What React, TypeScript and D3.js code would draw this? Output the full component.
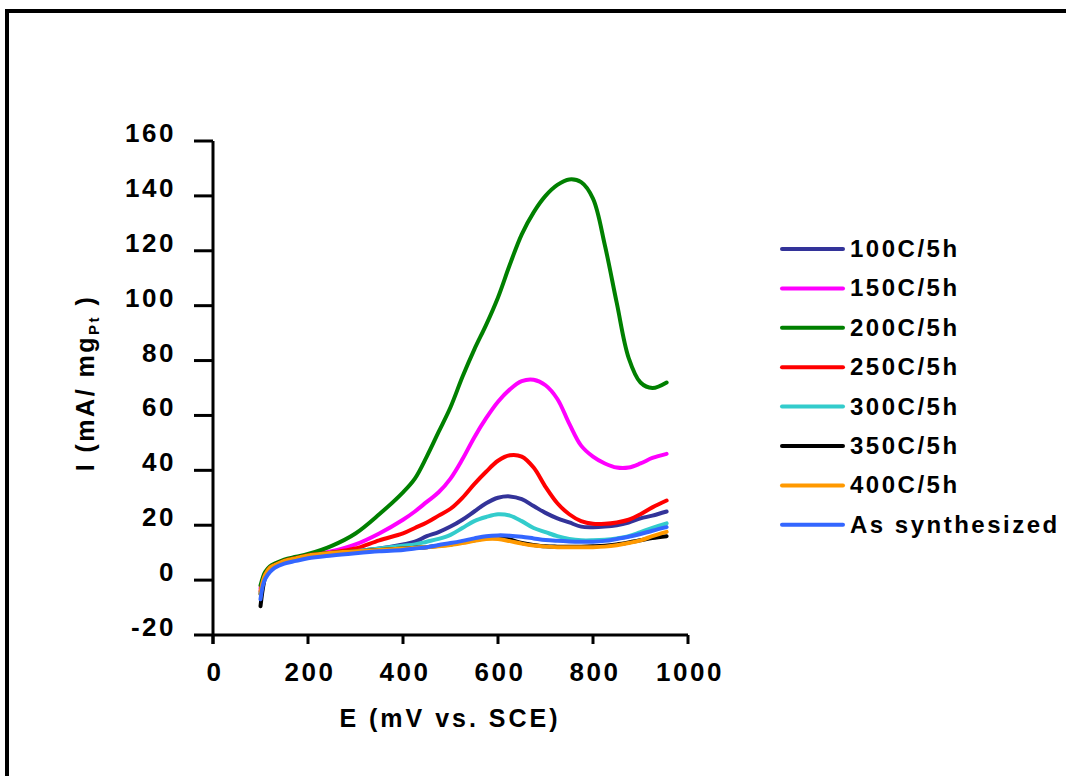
import React from "react";
import * as d3 from "d3";

const E = [100, 105, 110, 120, 130, 150, 175, 200, 250, 300, 350, 400, 425, 450, 475, 500, 525, 550, 575, 600, 625, 650, 675, 700, 725, 750, 775, 800, 825, 850, 875, 900, 925, 955];

const s100 = [-5, -1, 1.5, 4, 5, 6.5, 7.5, 8.5, 9.5, 10.5, 11.5, 13, 14, 16, 17.5, 19.5, 22, 25, 28, 30, 30.5, 29.5, 27, 24.5, 22.5, 21, 19.5, 19.3, 19.5, 20, 21, 22.5, 23.5, 25];
const s150 = [-3, 0, 2.5, 4.5, 5.5, 7, 8, 9, 10.5, 13, 17, 22, 25, 28.5, 32, 37, 44, 52, 59, 65, 69.5, 72.5, 73, 71, 66, 57, 49, 45, 42.5, 41, 41, 42.5, 44.5, 46];
const s200 = [-2, 1, 3, 5, 6, 7.5, 8.5, 9.5, 12.5, 17, 24, 32, 37, 45, 54, 63, 74, 84, 93, 103, 115, 126, 134, 140, 144, 146, 145, 139, 122, 101, 81, 72, 70, 72];
const s250 = [-4, -0.5, 2, 4.5, 5.5, 7, 8, 9, 10, 11.5, 14.5, 17, 19, 21, 23.5, 26, 30, 35, 39.5, 43.5, 45.5, 45, 41, 34, 28, 24, 21.5, 20.5, 20.5, 21, 22, 24, 26.5, 29];
const s300 = [-5, -1, 1.5, 4, 5, 6.5, 7.5, 8.5, 9.5, 10.5, 11.5, 12.5, 13, 14, 15, 16.5, 19, 21.5, 23, 24, 23.5, 21.5, 19, 17.5, 16, 15, 14.5, 14.5, 14.7, 15.2, 16, 17.5, 19, 20.7];
const s350 = [-9.5, -3, 1, 4, 5.5, 7, 8, 9, 10, 10.5, 11, 11.5, 11.8, 12, 12.5, 13, 13.8, 14.5, 15.3, 15.5, 14.8, 13.5, 12.8, 12.3, 12.2, 12.2, 12.2, 12.3, 12.5, 13, 13.7, 14.5, 15.3, 16];
const s400 = [-5, -0.5, 2, 4.5, 5.5, 7, 8, 9, 10, 10.5, 11, 11.5, 11.8, 12, 12.3, 12.8, 13.5, 14.3, 15, 15, 14.2, 13.3, 12.6, 12.2, 12, 12, 12, 12, 12.2, 12.7, 13.5, 14.5, 16, 17.6];
const sAs = [-7, -2, 0.5, 3, 4.5, 6, 7, 8, 9, 9.8, 10.5, 11, 11.5, 12, 12.8, 13.5, 14.3, 15.2, 16, 16.3, 16.2, 15.8, 15.2, 14.6, 14.3, 14.1, 14, 14, 14.3, 15, 15.8, 16.8, 18, 19.3];

const seriesNames = ["100C/5h", "150C/5h", "200C/5h", "250C/5h", "300C/5h", "350C/5h", "400C/5h", "As synthesized"];
const seriesColors = ["#333399", "#FF00FF", "#008000", "#FF0000", "#33CCCC", "#000000", "#FF9900", "#3366FF"];
const seriesValues = [s100, s150, s200, s250, s300, s350, s400, sAs];

const xTicks = [0, 200, 400, 600, 800, 1000];
const yTicks = [-20, 0, 20, 40, 60, 80, 100, 120, 140, 160];

const FONT = "'Liberation Sans', Arial, sans-serif";

export default function App() {
  const x = d3.scaleLinear().domain([0, 1000]).range([213, 688]);
  const y = d3.scaleLinear().domain([-20, 160]).range([635, 141]);
  const line = d3
    .line<[number, number]>()
    .x((d) => x(d[0]))
    .y((d) => y(d[1]))
    .curve(d3.curveCatmullRom.alpha(0.5));

  const legendX0 = 782;
  const legendX1 = 843;
  const legendY0 = 249;
  const legendStep = 39.4;

  return (
    <svg
      width={1066}
      height={776}
      style={{ position: "absolute", left: 0, top: 0, background: "#fff" }}
      fontFamily={FONT}
      fontWeight="bold"
    >
      <rect x={0} y={0} width={1066} height={776} fill="#fff" />
      {/* frame */}
      <rect x={7} y={11} width={1100} height={800} fill="none" stroke="#000" strokeWidth={4} />

      {/* series */}
      {seriesValues.map((vals, i) => (
        <path
          key={seriesNames[i]}
          d={line(E.map((e, j) => [e, vals[j]] as [number, number])) || ""}
          fill="none"
          stroke={seriesColors[i]}
          strokeWidth={4}
          strokeLinejoin="round"
          strokeLinecap="round"
        />
      ))}

      {/* y axis */}
      <line x1={x(0)} x2={x(0)} y1={y(160)} y2={y(-20) + 9} stroke="#000" strokeWidth={3} />
      {yTicks.map((t) => (
        <g key={"y" + t}>
          <line x1={x(0) - 19} x2={x(0)} y1={y(t)} y2={y(t)} stroke="#000" strokeWidth={3} />
          <text x={176} y={y(t) + 1} textAnchor="end" fontSize={26} letterSpacing={2.5}>
            {t}
          </text>
        </g>
      ))}

      {/* x axis */}
      <line x1={x(0)} x2={x(1000)} y1={y(-20)} y2={y(-20)} stroke="#000" strokeWidth={3} />
      {xTicks.map((t) => (
        <g key={"x" + t}>
          <line x1={x(t)} x2={x(t)} y1={y(-20)} y2={y(-20) + 9} stroke="#000" strokeWidth={3} />
          <text x={x(t) + 2} y={681} textAnchor="middle" fontSize={26} letterSpacing={2.5}>
            {t}
          </text>
        </g>
      ))}

      {/* axis titles */}
      <text x={450} y={727} textAnchor="middle" fontSize={25} letterSpacing={3}>
        E (mV vs. SCE)
      </text>
      <text
        transform="translate(94,383) rotate(-90)"
        textAnchor="middle"
        fontSize={25}
        letterSpacing={2.5}
      >
        I (mA/ mg
        <tspan fontSize={15} dy={5}>Pt</tspan>
        <tspan dy={-5}> )</tspan>
      </text>

      {/* legend */}
      {seriesNames.map((n, i) => (
        <g key={"lg" + n}>
          <line
            x1={legendX0}
            x2={legendX1}
            y1={legendY0 + i * legendStep}
            y2={legendY0 + i * legendStep}
            stroke={seriesColors[i]}
            strokeWidth={4}
            strokeLinecap="round"
          />
          <text x={850} y={legendY0 + i * legendStep + 8} fontSize={24} letterSpacing={2.5}>
            {n}
          </text>
        </g>
      ))}
    </svg>
  );
}
